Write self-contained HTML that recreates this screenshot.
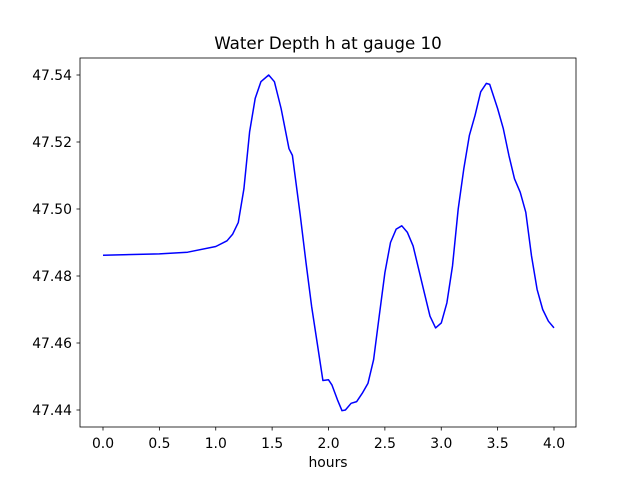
<!DOCTYPE html>
<html><head><meta charset="utf-8"><style>
body{margin:0;background:#fff;}
svg text{font-family:"DejaVu Sans","Liberation Sans",sans-serif;fill:#000;}
</style></head><body>
<svg id="chart" width="640" height="480" xmlns="http://www.w3.org/2000/svg">
<rect width="640" height="480" fill="#fff"/>
<text x="328" y="49" font-size="16.7" text-anchor="middle">Water Depth h at gauge 10</text>
<text x="328" y="467" font-size="13.9" text-anchor="middle">hours</text>
<g id="ticks"></g>
<path id="line" fill="none" stroke="#0000ff" stroke-width="1.5" stroke-linejoin="round"/>
<rect x="80" y="58" width="496" height="369" fill="none" stroke="#000" stroke-width="0.8"/>
</svg>
<script>
const hours=[0,0.5,0.75,1.0,1.1,1.15,1.2,1.25,1.3,1.35,1.4,1.47,1.52,1.58,1.65,1.68,1.75,1.8,1.85,1.9,1.95,2.0,2.03,2.08,2.12,2.15,2.2,2.25,2.3,2.35,2.4,2.45,2.5,2.55,2.6,2.65,2.7,2.75,2.8,2.85,2.9,2.95,3.0,3.05,3.1,3.15,3.2,3.25,3.3,3.35,3.4,3.43,3.5,3.55,3.6,3.65,3.7,3.75,3.8,3.85,3.9,3.95,4.0];
const depth=[47.4862,47.4866,47.4871,47.4888,47.4905,47.4925,47.4960,47.5060,47.5230,47.5330,47.5380,47.5400,47.5380,47.5300,47.5180,47.5160,47.4980,47.4840,47.4710,47.4600,47.4488,47.4490,47.4475,47.4430,47.4398,47.4400,47.4420,47.4425,47.4450,47.4480,47.4550,47.4680,47.4810,47.4900,47.4940,47.4950,47.4930,47.4890,47.4820,47.4750,47.4680,47.4645,47.4660,47.4720,47.4830,47.5000,47.5120,47.5220,47.5280,47.5350,47.5375,47.5372,47.5300,47.5240,47.5160,47.5090,47.5050,47.4990,47.4860,47.4760,47.4700,47.4665,47.4645];
const xTicks=[0,0.5,1,1.5,2,2.5,3,3.5,4];
const xTickLabels=["0.0","0.5","1.0","1.5","2.0","2.5","3.0","3.5","4.0"];
const yTicks=[47.44,47.46,47.48,47.50,47.52,47.54];
const yTickLabels=["47.44","47.46","47.48","47.50","47.52","47.54"];
const X=v=>103+v*112.75;
const Y=v=>410-(v-47.44)*3350;
const ns="http://www.w3.org/2000/svg";
const g=document.getElementById('ticks');
function mk(t,a){const e=document.createElementNS(ns,t);for(const k in a)e.setAttribute(k,a[k]);g.appendChild(e);return e;}
xTicks.forEach((v,i)=>{
 const l=mk('line',{x1:X(v),x2:X(v),y1:427,y2:430.5,stroke:'#000','stroke-width':0.8});
 
 
 const t=mk('text',{x:X(v),y:448,'font-size':13.9,'text-anchor':'middle'});
 t.textContent=xTickLabels[i];
 
 
});
yTicks.forEach((v,i)=>{
 const l=mk('line',{x1:76.5,x2:80,y1:Y(v),y2:Y(v),stroke:'#000','stroke-width':0.8});
 
 
 const t=mk('text',{x:72,y:Y(v)+5,'font-size':13.9,'text-anchor':'end'});
 t.textContent=yTickLabels[i];
 
 
});
document.getElementById('line').setAttribute('d',hours.map((h,i)=>(i?'L':'M')+X(h).toFixed(1)+' '+Y(depth[i]).toFixed(1)).join(' '));
</script>
</body></html>
